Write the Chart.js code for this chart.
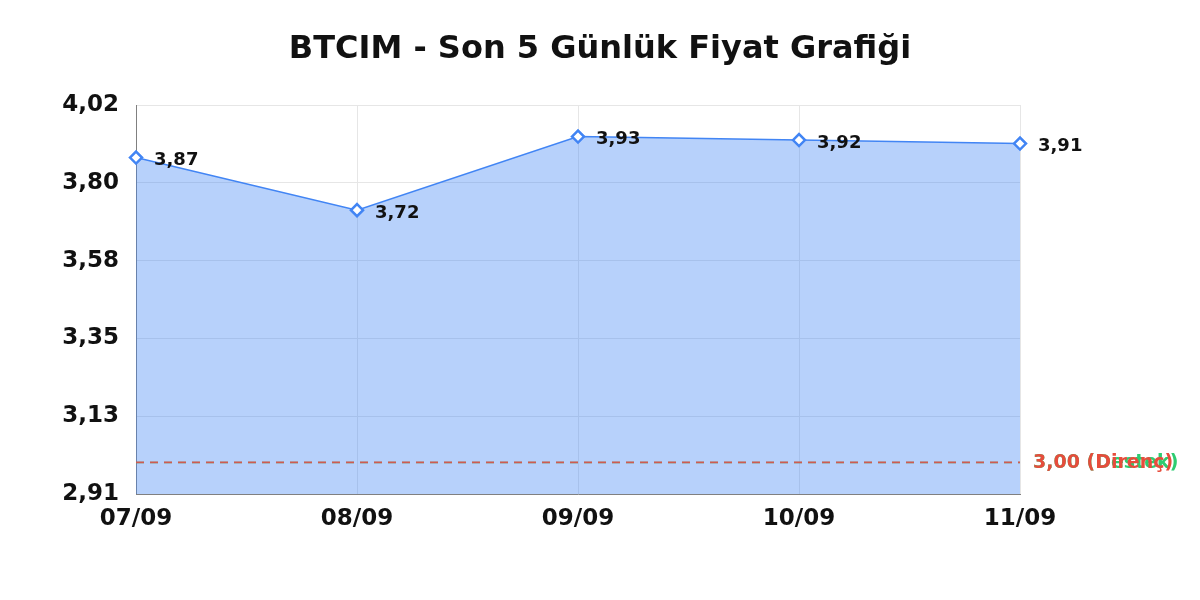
<!DOCTYPE html>
<html>
<head>
<meta charset="utf-8">
<script src="https://cdn.jsdelivr.net/npm/chart.js@4/dist/chart.umd.min.js"></script>
<style>
  html, body { margin: 0; padding: 0; background: #fff; }
  #wrap { width: 1200px; height: 600px; }
</style>
</head>
<body>
<div id="wrap"><canvas id="priceChart"></canvas></div>
<script>
const days = ["07/09", "08/09", "09/09", "10/09", "11/09"];
const prices = [3.87, 3.72, 3.93, 3.92, 3.91];
const supportLevel = 3.00;
const resistanceLevel = 3.00;
const yTicks = [2.91, 3.132, 3.354, 3.576, 3.798, 4.02];

const fmt = v => v.toFixed(2).replace(".", ",");

Chart.defaults.font.family = "DejaVu Sans";
Chart.defaults.color = "#111";

// value labels next to the points and on the level lines
const labelPlugin = {
  id: "pointLabels",
  afterDatasetsDraw(chart) {
    const ctx = chart.ctx;
    ctx.save();
    ctx.textAlign = "left";
    ctx.textBaseline = "middle";
    ctx.font = "bold 18px DejaVu Sans";
    ctx.fillStyle = "#111";
    chart.getDatasetMeta(0).data.forEach((pt, i) => {
      ctx.fillText(fmt(prices[i]), pt.x + 18, pt.y + 3);
    });
    const y = chart.scales.y;
    const x = chart.chartArea.right + 13;
    ctx.font = "bold 19px DejaVu Sans";
    ctx.fillStyle = "#2ecc71";
    ctx.fillText(fmt(supportLevel) + " (Destek)", x, y.getPixelForValue(supportLevel) + 1);
    ctx.fillStyle = "#e74c3c";
    ctx.fillText(fmt(resistanceLevel) + " (Direnç)", x, y.getPixelForValue(resistanceLevel) + 1);
    ctx.restore();
  }
};

new Chart(document.getElementById("priceChart"), {
  type: "line",
  data: {
    labels: days,
    datasets: [
      {
        label: "Fiyat",
        data: prices,
        order: 3,
        borderColor: "#4285f4",
        borderWidth: 1.5,
        backgroundColor: "rgba(66,133,244,0.38)",
        fill: "start",
        tension: 0,
        pointStyle: "rectRot",
        pointRadius: 6,
        pointHoverRadius: 6,
        pointBorderWidth: 2.5,
        pointBackgroundColor: "#fff",
        pointBorderColor: "#4285f4"
      },
      {
        label: "Destek",
        data: days.map(() => supportLevel),
        order: 2,
        borderColor: "#2ecc71",
        borderWidth: 1.5,
        borderDash: [8, 6],
        pointRadius: 0,
        fill: false
      },
      {
        label: "Direnç",
        data: days.map(() => resistanceLevel),
        order: 1,
        borderColor: "rgba(235,70,75,0.85)",
        borderWidth: 1.8,
        borderDash: [8, 6],
        pointRadius: 0,
        fill: false
      }
    ]
  },
  options: {
    responsive: true,
    maintainAspectRatio: false,
    animation: false,
    layout: { padding: 0 },
    plugins: {
      legend: { display: false },
      tooltip: { enabled: false },
      title: {
        display: true,
        text: "BTCIM - Son 5 Günlük Fiyat Grafiği",
        font: { size: 32, weight: "bold" },
        color: "#111",
        padding: { top: 30, bottom: 36.6 }
      }
    },
    scales: {
      x: {
        offset: false,
        afterFit: axis => { axis.height = 106; },
        grid: { color: "#e6e6e6", drawTicks: false },
        border: { color: "#808080" },
        ticks: { font: { size: 23, weight: "bold" }, color: "#111", padding: 11, maxRotation: 0 }
      },
      y: {
        min: 2.91,
        max: 4.02,
        afterFit: axis => { axis.width = 136; },
        afterBuildTicks: axis => { axis.ticks = yTicks.map(v => ({ value: v })); },
        grid: { color: "#e6e6e6", drawTicks: false },
        border: { color: "#808080" },
        ticks: { font: { size: 23, weight: "bold" }, color: "#111", padding: 17, callback: v => fmt(v) }
      },
      yRight: {
        position: "right",
        min: 0,
        max: 1,
        afterFit: axis => { axis.width = 180; },
        grid: { display: false },
        border: { display: false },
        ticks: { display: false }
      }
    }
  },
  plugins: [labelPlugin]
});
</script>
</body>
</html>
